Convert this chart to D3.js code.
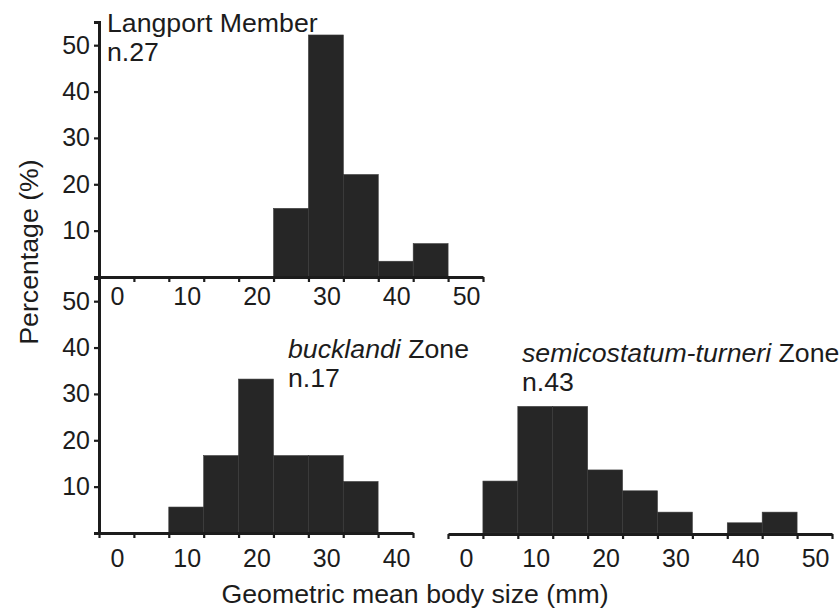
<!DOCTYPE html>
<html>
<head>
<meta charset="utf-8">
<script src="https://cdn.jsdelivr.net/npm/d3@7"></script>
<style>
  body { margin: 0; background: #ffffff; }
  svg { font-family: "Liberation Sans", Arial, sans-serif; }
  .axis path, .axis line { stroke: #1c1c1c; }
</style>
</head>
<body>
<div id="chart"></div>
<script>
// Histogram bins (lower edge, mm) and percentages per zone
const langportBins = [20, 25, 30, 35, 40];
const langportPct = [14.8, 52.2, 22.1, 3.4, 7.2];

const bucklandiBins = [5, 10, 15, 20, 25, 30];
const bucklandiPct = [5.6, 16.7, 33.2, 16.7, 16.7, 11.1];

const semicostatumBins = [0, 5, 10, 15, 20, 25, 35, 40];
const semicostatumPct = [11.2, 27.3, 27.3, 13.6, 9.1, 4.5, 2.2, 4.5];

const binWidth = 5;
const yTickValues = [10, 20, 30, 40, 50];
const xLabelValues = [0, 10, 20, 30, 40, 50];
const xLabelValuesShort = [0, 10, 20, 30, 40];

const width = 840;
const height = 610;
const barColor = "#262626";
const inkColor = "#1c1c1c";
const tickFont = 25;
const textFont = 26.7;

const svg = d3.select("#chart")
  .append("svg")
  .attr("width", width)
  .attr("height", height);

// y scales: top panel and the two bottom panels share a shape
const yTop = d3.scaleLinear().domain([0, 55]).range([277, 22]);
const yBottom = d3.scaleLinear().domain([0, 55]).range([533, 278]);

// x scales
const xTop = d3.scaleLinear().domain([-5, 50]).range([99, 483]);
const xLeft = d3.scaleLinear().domain([-5, 40]).range([99, 413]);
const xRight = d3.scaleLinear().domain([-5, 50]).range([448, 832]);

function tickRange(scale) {
  const [a, b] = scale.domain();
  return d3.range(a, b + 0.1, 5);
}

// Draw bars for one panel
function drawBars(bins, pct, x, y) {
  svg.append("g")
    .selectAll("rect")
    .data(bins.map((b, i) => ({ start: b, value: pct[i] })))
    .enter()
    .append("rect")
    .attr("x", d => x(d.start))
    .attr("width", d => x(d.start + binWidth) - x(d.start))
    .attr("y", d => y(d.value))
    .attr("height", d => y(0) - y(d.value))
    .attr("fill", barColor)
    .attr("stroke", "#3a3a3a")
    .attr("stroke-width", 0.6);
}

// Draw x axis ticks plus labels centred under each bin
function drawXAxis(x, yPos, labels, labelDy) {
  const g = svg.append("g")
    .attr("class", "axis")
    .attr("transform", `translate(0,${yPos})`)
    .call(d3.axisBottom(x)
      .tickValues(tickRange(x))
      .tickSize(5)
      .tickSizeOuter(0)
      .tickFormat(""));
  g.select(".domain").attr("stroke-width", 3);
  g.selectAll(".tick line").attr("stroke-width", 2.2);

  svg.append("g")
    .selectAll("text")
    .data(labels)
    .enter()
    .append("text")
    .attr("x", d => x(d - binWidth / 2) + 1)
    .attr("y", yPos + labelDy)
    .attr("text-anchor", "middle")
    .attr("font-size", tickFont)
    .attr("fill", inkColor)
    .text(d => d);
}

function drawYAxis(y) {
  const g = svg.append("g")
    .attr("class", "axis")
    .attr("transform", "translate(99,0)")
    .call(d3.axisLeft(y)
      .tickValues(yTickValues)
      .tickSize(5)
      .tickSizeOuter(5)
      .tickPadding(4));
  g.select(".domain").attr("stroke-width", 3);
  g.selectAll(".tick line").attr("stroke-width", 2.2);
  g.selectAll(".tick text")
    .attr("font-size", tickFont)
    .attr("font-family", "Liberation Sans, Arial, sans-serif")
    .attr("fill", inkColor);
}

// Bars first so the axes sit on top
drawBars(langportBins, langportPct, xTop, yTop);
drawBars(bucklandiBins, bucklandiPct, xLeft, yBottom);
drawBars(semicostatumBins, semicostatumPct, xRight, yBottom);

drawYAxis(yTop);
drawYAxis(yBottom);

drawXAxis(xTop, 277, xLabelValues, 28);
drawXAxis(xLeft, 533, xLabelValuesShort, 34);
drawXAxis(xRight, 534, xLabelValues, 33);

// Panel annotations
function annotate(x, y, italicPart, plainPart, nText) {
  const t = svg.append("text")
    .attr("x", x)
    .attr("y", y)
    .attr("font-size", textFont)
    .attr("fill", inkColor);
  if (italicPart) {
    t.append("tspan").attr("font-style", "italic").text(italicPart);
  }
  t.append("tspan").text(plainPart);
  svg.append("text")
    .attr("x", x)
    .attr("y", y + 29)
    .attr("font-size", textFont)
    .attr("fill", inkColor)
    .text(nText);
}

annotate(107, 32, null, "Langport Member", "n.27");
annotate(288, 358, "bucklandi", " Zone", "n.17");
annotate(522, 362, "semicostatum-turneri", " Zone", "n.43");

// Axis titles
svg.append("text")
  .attr("transform", "translate(38,252) rotate(-90)")
  .attr("text-anchor", "middle")
  .attr("font-size", textFont)
  .attr("fill", inkColor)
  .text("Percentage (%)");

svg.append("text")
  .attr("x", 415)
  .attr("y", 603)
  .attr("text-anchor", "middle")
  .attr("font-size", textFont)
  .attr("fill", inkColor)
  .text("Geometric mean body size (mm)");
</script>
</body>
</html>
